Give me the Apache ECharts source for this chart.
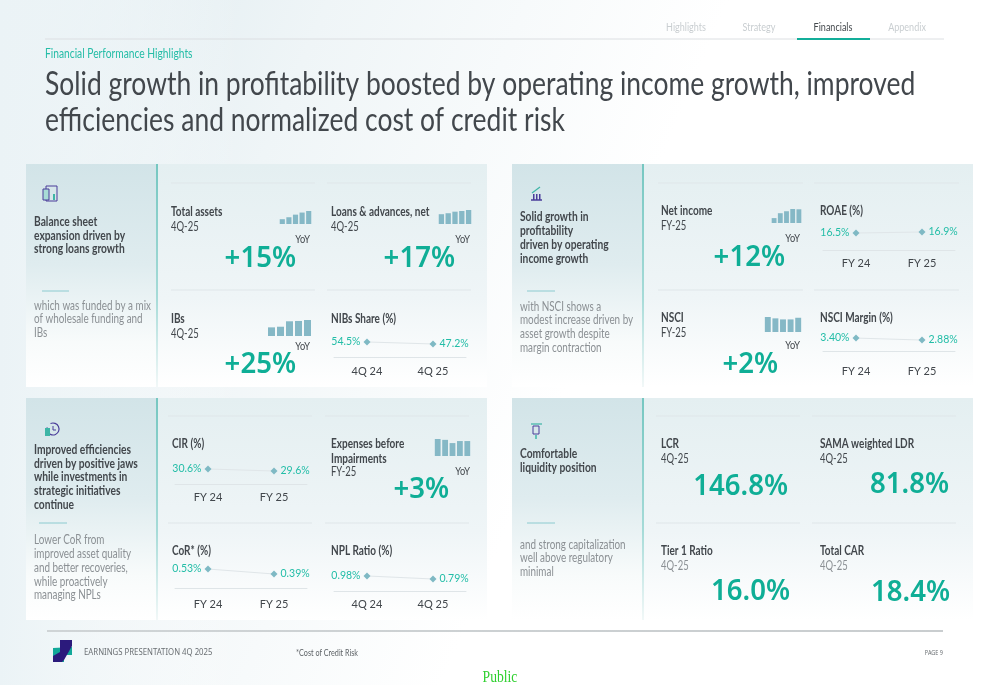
<!DOCTYPE html>
<html><head><meta charset="utf-8">
<style>html,body{margin:0;padding:0;background:#fff}#c{width:1000px;height:685px}</style>
<script src="https://cdn.jsdelivr.net/npm/echarts@6/dist/echarts.min.js"></script>
</head><body><div id="c"></div>
<script>
// ---------- data ----------
const tabLabels = ['Highlights','Strategy','Financials','Appendix'];
const pageKicker = 'Financial Performance Highlights';
const titleLines = ['Solid growth in profitability boosted by operating income growth, improved','efficiencies and normalized cost of credit risk'];

// relative bar heights (no numbers are printed in the source)
const totalAssetsBars = [37,52,72,88,100];
const loansBars = [70,77,88,93,100];
const ibsBars = [54,58,92,94,100];
const netIncomeBars = [35,70,84,100,98];
const nsciBars = [100,91,84,84,95];
const expensesBars = [100,95,76,88,88];

const quarterCats = ['4Q 24','4Q 25'];
const yearCats = ['FY 24','FY 25'];
const nibsShare = [54.5,47.2];
const roae = [16.5,16.9];
const nsciMargin = [3.40,2.88];
const cir = [30.6,29.6];
const cor = [0.53,0.39];
const nplRatio = [0.98,0.79];

// ---------- layout ----------
const FONT = 'Lato', NUM='"Noto Sans"';
const DARK = '#42474c', GREY = '#8b9094', TEAL = '#0fae96', TEAL2 = '#22bda7', BAR = '#85b8c6';

const g = [];
function lin(x1,y1,x2,y2,stops){return {type:'linear',x:x1,y:y1,x2:x2,y2:y2,colorStops:stops.map(s=>({offset:s[0],color:s[1]}))};}
function rect(x,y,w,h,fill){g.push({type:'rect',z:-5,silent:true,shape:{x,y,width:w,height:h},style:{fill}});}
function hl(x1,x2,y,color,w){g.push({type:'line',z:-4,silent:true,shape:{x1,y1:y,x2,y2:y},style:{stroke:color,lineWidth:w||1}});}
function txt(s,x,y,size,fill,o){o=o||{};g.push({type:'text',z:5,silent:true,x,y:y+1,scaleX:o.sx||0.93,style:{text:s,fontFamily:o.font||FONT,fontSize:size,fontWeight:o.w||400,fill,textAlign:o.a||'left',textVerticalAlign:'middle'}});}
function lines(arr,x,ys,size,fill,o){arr.forEach((s,i)=>txt(s,x,ys[i],size,fill,o));}

// page background
rect(0,0,1000,685,'#fff');
rect(0,0,1000,685,lin(0,0,0.62,0.38,[[0,'#dbe9ee'],[0.45,'#eff5f7'],[1,'#ffffff']]));
rect(0,0,240,685,lin(0,0,1,0,[[0,'#ebf3f6'],[1,'rgba(255,255,255,0)']]));

// header
hl(45,944,39,'#dcdfe2',1);
hl(797,870,39,'#13ae9a',2);
[686,759,833,907].forEach((x,i)=>txt(tabLabels[i],x,27,10.5,i===2?'#44494d':'#c9ced1',{a:'center',sx:.86}));
txt(pageKicker,45,53,12.5,'#25bda7',{sx:.82});
txt(titleLines[0],45,83,33,DARK,{sx:.802});
txt(titleLines[1],45,119,33,DARK,{sx:.802});

// panels
const panels = [[26,164,223,157],[512,164,223,643],[26,398,222,157],[512,398,222,643]];
panels.forEach(p=>{
  const [x,y,h,dx]=p;
  rect(x,y,461,h,lin(0,0,0,1,[[0,'#e4eff1'],[0.6,'#eff5f7'],[1,'#ffffff']]));
  rect(x,y,dx-x,h,lin(0,0,0,1,[[0,'#d2e4e8'],[0.45,'#dfecef'],[0.8,'#f8fbfb'],[1,'#ffffff']]));
  rect(dx-1,y,2,h,lin(0,0,0,1,[[0,'#76c7c1'],[0.6,'#a6dbd8'],[1,'#f2f8f8']]));
});
[[183,171,315,327,471],[290,171,315,327,471],[183,658,803,814,959],[290,658,803,814,959],
 [416,168,312,325,469],[523,168,312,325,469],[416,656,800,812,956],[523,656,800,812,956]].forEach(r=>{
  hl(r[1],r[2],r[0],'#dfe6e9');hl(r[3],r[4],r[0],'#dfe6e9');
});
[[42,69,291],[527,555,291],[39,67,523],[527,555,523]].forEach(r=>hl(r[0],r[1],r[2],'#8ccbd0',1));

// left-column copy
const LB={w:700,sx:.82};
const LG={sx:.79};
lines(['Balance sheet','expansion driven by','strong loans growth'],34,[221,235,248],12.5,DARK,LB);
lines(['which was funded by a mix','of wholesale funding and','IBs'],34,[305,318,332],12.5,GREY,LG);
lines(['Solid growth in','profitability','driven by operating','income growth'],520,[216,230,244,258],12.5,DARK,LB);
lines(['with NSCI shows a','modest increase driven by','asset growth despite','margin contraction'],520,[306,319,333,347],12.5,GREY,LG);
lines(['Improved efficiencies','driven by positive jaws','while investments in','strategic initiatives','continue'],34,[449,463,476,490,504],12.5,DARK,LB);
lines(['Lower CoR from','improved asset quality','and better recoveries,','while proactively','managing NPLs'],34,[539,553,567,581,594],12.5,GREY,LG);
lines(['Comfortable','liquidity position'],520,[453,467],12.5,DARK,LB);
lines(['and strong capitalization','well above regulatory','minimal'],520,[544,557,571],12.5,GREY,LG);

// metric headers
const H={w:700,sx:.8};
const SUB={sx:.76};
function head(name,sub,x,y){txt(name,x,y,12.5,DARK,H);if(sub)txt(sub,x,y+15,12.5,DARK,SUB);}
head('Total assets','4Q-25',171,211);
head('Loans & advances, net','4Q-25',331,211);
head('IBs','4Q-25',171,318);
head('NIBs Share (%)',null,331,318);
head('Net income','FY-25',661,210);
head('ROAE (%)',null,820,210);
head('NSCI','FY-25',661,317);
head('NSCI Margin (%)',null,820,317);
head('CIR (%)',null,172,443);
lines(['Expenses before','Impairments'],331,[443,458],12.5,DARK,H);
txt('FY-25',331,471,12.5,DARK,SUB);
head('CoR* (%)',null,172,550);
head('NPL Ratio (%)',null,331,550);
head('LCR','4Q-25',661,443);
head('SAMA weighted LDR','4Q-25',820,443);
head('Tier 1 Ratio',null,661,550);txt('4Q-25',661,565,12.5,GREY,SUB);
head('Total CAR',null,820,550);txt('4Q-25',820,565,12.5,GREY,SUB);

// big numbers and YoY tags
[['+15%',296,258],['+17%',455,258],['+25%',296,364],['+12%',785,257],['+2%',778,364],['+3%',449,489],
 ['146.8%',788,486],['81.8%',949,484],['16.0%',790,591],['18.4%',950,592]].forEach(b=>
  txt(b[0],b[1],b[2],29,TEAL,{a:'right',w:600,sx:.95,font:NUM}));
[[310,239],[470,239],[310,346],[800,238],[800,345],[470,471]].forEach(p=>txt('YoY',p[0],p[1],10.5,DARK,{a:'right',sx:.88}));

// footer
rect(47,630,896,2,lin(0,0,1,0,[[0,'#cfd4d6'],[1,'#c9cdcf']]));
txt('EARNINGS PRESENTATION 4Q 2025',84,652,8.5,'#6b7074',{sx:.915,font:NUM});
txt('*Cost of Credit Risk',296,652,9,'#5d6266',{sx:.8});
txt('PAGE 9',943,652,6.5,'#6b7074',{a:'right',sx:.85,font:NUM});
txt('Public',500,677,17,'#2fd02f',{a:'center',font:'"Liberation Serif"',sx:.8});
// logo
g.push({type:'polygon',z:5,silent:true,shape:{points:[[53,648],[72,647],[72,655],[64,655],[64,662],[53,662]]},style:{fill:'#12a899'}});
g.push({type:'polygon',z:6,silent:true,shape:{points:[[60,640],[72,640],[72,646],[64,660],[62,662],[53,662],[53,656],[60,652]]},style:{fill:'#2b1a7c'}});

// icons
const PUR='#4a3d9a', IC='#3db5a6';
function ir(x,y,w,h,s,f){g.push({type:'rect',z:5,silent:true,shape:{x,y,width:w,height:h},style:{stroke:s||null,fill:f||'none',lineWidth:1}});}
function il(pts,s,w){g.push({type:'polyline',z:5,silent:true,shape:{points:pts},style:{stroke:s,fill:'none',lineWidth:w||1}});}
ir(46,186,11,15,PUR);ir(43,189,6,11,PUR,'#a8dcd6');ir(53,194,2,6,null,IC);
il([[531,200],[542,200]],PUR,1.5);[533,536,539].forEach(x=>ir(x,194,1.5,6,null,PUR));il([[532,193],[540,187]],IC,1.2);
g.push({type:'arc',z:5,silent:true,shape:{cx:53,cy:429,r:6,startAngle:-2,endAngle:3.4},style:{stroke:PUR,fill:'none',lineWidth:1.2}});
ir(45,428,5,8,null,IC);il([[53,426],[53,430],[56,430]],PUR,1);
il([[531,424],[542,424]],IC,1.2);ir(533,426,6,8,PUR);il([[536,435],[536,439]],IC,1.5);

// ---------- charts ----------
const grids=[],xs=[],ys=[],series=[];
function addBars(vals,left,width,bottom,height){
  const i=grids.length;
  grids.push({left,width,top:bottom-height,height,containLabel:false});
  xs.push({gridIndex:i,type:'category',data:vals.map((_,k)=>k),show:false});
  ys.push({gridIndex:i,type:'value',min:0,max:100,show:false});
  series.push({type:'bar',xAxisIndex:i,yAxisIndex:i,data:vals,barCategoryGap:'22%',itemStyle:{color:BAR},silent:true});
}
addBars(totalAssetsBars,279,33,224,13);
addBars(loansBars,438,34,224,14);
addBars(ibsBars,267,45,336,16);
addBars(netIncomeBars,771,31,223,14);
addBars(nsciBars,764,38,332,15);
addBars(expensesBars,434,37,456,17);

function addLine(vals,cats,dec,left,axisY,yMin,yMax){
  const i=grids.length,h=23;
  grids.push({left,width:132,top:axisY-h,height:h,containLabel:false});
  xs.push({gridIndex:i,type:'category',data:cats,boundaryGap:true,
    axisLine:{show:true,lineStyle:{color:'#dfe5e8',width:1}},axisTick:{show:false},
    axisLabel:{show:true,interval:0,color:DARK,fontFamily:FONT,fontSize:11,margin:8}});
  ys.push({gridIndex:i,type:'value',min:yMin,max:yMax,show:false,splitLine:{show:false}});
  series.push({type:'line',xAxisIndex:i,yAxisIndex:i,silent:true,symbol:'diamond',symbolSize:7,
    lineStyle:{color:'#e0e6e9',width:1},itemStyle:{color:'#7fb9c4'},
    data:vals.map((v,k)=>({value:v,label:{show:true,position:k?'right':'left',distance:3,
      formatter:v.toFixed(dec)+'%',color:TEAL2,fontFamily:FONT,fontSize:10.5}}))});
}
addLine(nibsShare,quarterCats,1,334,358,-4,80);
addLine(roae,yearCats,1,823,250,9.7,18.9);
addLine(nsciMargin,yearCats,2,823,358,-1.8,4.2);
addLine(cir,yearCats,1,175,484,23.1,34.6);
addLine(cor,yearCats,2,175,591,-0.086,0.558);
addLine(nplRatio,quarterCats,2,334,591,0.03,1.485);

const chart=echarts.init(document.getElementById('c'),null,{renderer:'canvas',width:1000,height:685});
chart.setOption({animation:false,grid:grids,xAxis:xs,yAxis:ys,series,graphic:{elements:g}});
</script></body></html>
